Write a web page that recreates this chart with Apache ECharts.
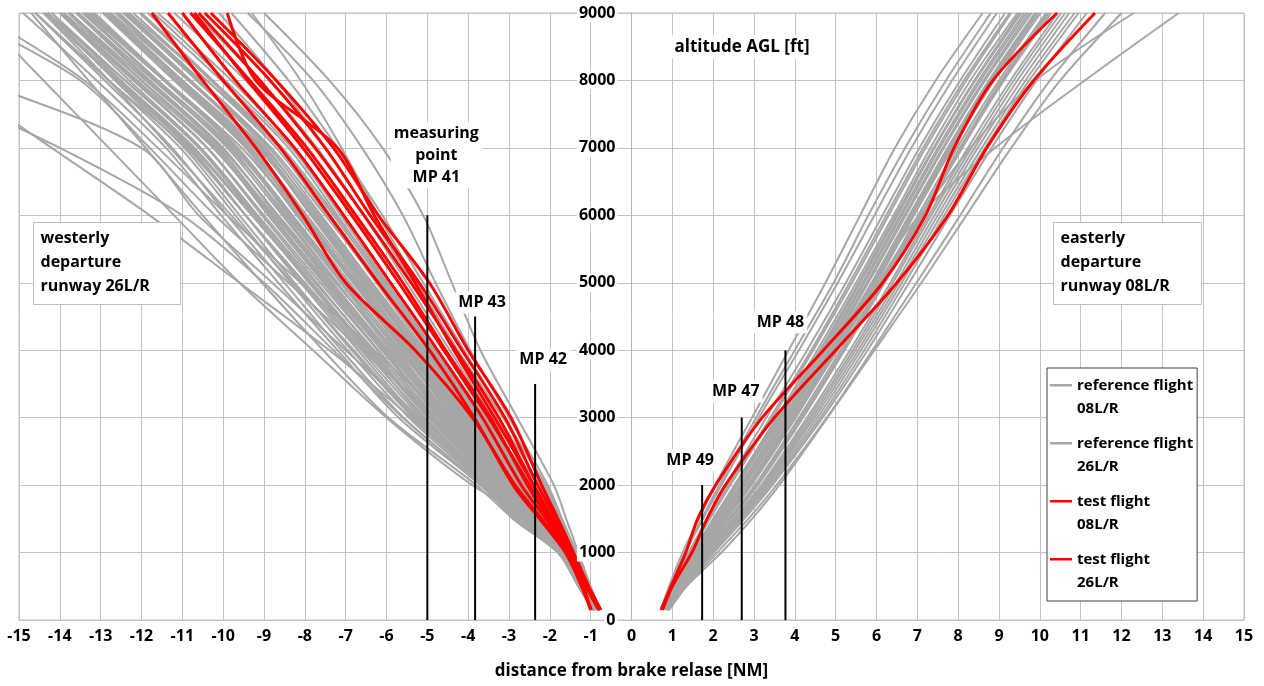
<!DOCTYPE html>
<html>
<head>
<meta charset="utf-8">
<script src="https://cdn.jsdelivr.net/npm/echarts@6/dist/echarts.min.js"></script>
<style>
  html, body { margin: 0; padding: 0; background: #fff; }
  #chart { width: 1264px; height: 686px; }
</style>
</head>
<body>
<div id="chart"></div>
<script>
// altitude levels (ft) at which each track's distance (NM) was read
const altLevels = [150, 500, 1000, 1500, 2000, 3000, 4000, 5000, 6000, 7000, 8000, 9000];

// reference flights, westerly departure 26L/R (distance at each altitude level)
const westReference = [
  [-0.75, -1.00, -1.30, -1.60, -1.90, -2.80, -3.70, -4.40, -5.10, -6.10, -7.40, -9.00],
  [-0.78, -1.02, -1.35, -1.70, -2.05, -3.00, -3.95, -4.80, -5.60, -6.60, -7.80, -9.40],
  [-0.80, -1.05, -1.38, -1.75, -2.15, -3.10, -4.10, -5.10, -6.10, -7.20, -8.40, -9.80],
  [-0.82, -1.06, -1.40, -1.80, -2.25, -3.25, -4.30, -5.35, -6.40, -7.50, -8.70, -10.10],
  [-0.80, -1.08, -1.42, -1.85, -2.30, -3.40, -4.45, -5.50, -6.55, -7.70, -9.10, -10.70],
  [-0.83, -1.10, -1.45, -1.90, -2.40, -3.55, -4.60, -5.70, -6.80, -7.95, -9.45, -11.20],
  [-0.85, -1.10, -1.47, -1.95, -2.45, -3.60, -4.75, -5.90, -7.05, -8.25, -9.80, -11.60],
  [-0.84, -1.12, -1.50, -2.00, -2.55, -3.75, -4.90, -6.05, -7.20, -8.40, -10.05, -11.85],
  [-0.86, -1.13, -1.52, -2.05, -2.60, -3.85, -5.05, -6.25, -7.45, -8.70, -10.40, -12.20],
  [-0.87, -1.15, -1.55, -2.10, -2.70, -3.95, -5.20, -6.45, -7.70, -8.95, -10.65, -12.45],
  [-0.85, -1.14, -1.55, -2.15, -2.75, -4.05, -5.35, -6.60, -7.85, -9.10, -10.85, -12.65],
  [-0.88, -1.16, -1.58, -2.20, -2.85, -4.20, -5.50, -6.75, -8.00, -9.25, -11.00, -12.80],
  [-0.88, -1.18, -1.60, -2.25, -2.90, -4.30, -5.60, -6.90, -8.20, -9.45, -11.20, -12.95],
  [-0.90, -1.18, -1.62, -2.30, -3.00, -4.45, -5.75, -7.05, -8.35, -9.65, -11.40, -13.15],
  [-0.89, -1.20, -1.64, -2.35, -3.05, -4.55, -5.90, -7.20, -8.50, -9.80, -11.60, -13.40],
  [-0.90, -1.20, -1.66, -2.40, -3.15, -4.70, -6.05, -7.40, -8.70, -10.00, -11.80, -13.60],
  [-0.91, -1.22, -1.68, -2.45, -3.20, -4.80, -6.20, -7.55, -8.90, -10.20, -12.00, -13.80],
  [-0.92, -1.22, -1.70, -2.50, -3.30, -4.95, -6.35, -7.70, -9.05, -10.40, -12.20, -14.00],
  [-0.92, -1.24, -1.72, -2.55, -3.40, -5.10, -6.50, -7.90, -9.25, -10.60, -12.40, -14.20],
  [-0.93, -1.25, -1.74, -2.60, -3.50, -5.25, -6.70, -8.10, -9.45, -10.80, -12.60, -14.40],
  [-0.94, -1.26, -1.76, -2.70, -3.60, -5.45, -6.95, -8.35, -9.70, -11.05, -12.80, -14.60],
  [-0.95, -1.28, -1.78, -2.80, -3.70, -5.70, -7.20, -8.65, -10.05, -11.40, -13.10, -14.90],
  [-0.95, -1.30, -1.80, -2.90, -3.80, -5.95, -7.55, -9.05, -10.50, -11.90, -13.30, -14.70],
  [-0.95, -1.30, -1.65, -2.50, -3.90, -6.00, -7.80, -9.60, -11.20, -12.80, -14.40, -16.00],
  [-0.84, -1.10, -1.50, -2.05, -2.65, -3.90, -5.00, -6.10, -7.30, -8.60, -10.40, -12.30],
  [-0.86, -1.12, -1.54, -2.12, -2.72, -4.00, -5.25, -6.50, -7.80, -9.15, -11.00, -12.90],
  [-0.87, -1.15, -1.58, -2.18, -2.80, -4.15, -5.45, -6.80, -8.15, -9.55, -11.40, -13.30],
  [-0.88, -1.16, -1.60, -2.28, -2.95, -4.35, -5.70, -7.10, -8.45, -9.85, -11.70, -13.55],
  [-0.90, -1.18, -1.63, -2.35, -3.10, -4.60, -6.00, -7.35, -8.75, -10.15, -12.00, -13.90],
  [-0.91, -1.20, -1.66, -2.42, -3.22, -4.85, -6.30, -7.75, -9.15, -10.55, -12.40, -14.30],
  [-0.92, -1.22, -1.70, -2.52, -3.35, -5.05, -6.55, -8.00, -9.45, -10.90, -12.80, -14.60],
  [-0.93, -1.24, -1.73, -2.62, -3.48, -5.30, -6.80, -8.30, -9.80, -11.30, -12.80, -14.40],
  [-0.89, -1.18, -1.62, -2.30, -2.98, -4.40, -5.80, -7.25, -8.65, -10.05, -11.90, -13.75],
  [-0.88, -1.15, -1.57, -2.22, -2.88, -4.25, -5.55, -6.95, -8.35, -9.75, -11.60, -13.45],
  [-0.87, -1.13, -1.53, -2.10, -2.70, -4.00, -5.30, -6.70, -8.10, -9.55, -11.45, -13.35],
  [-0.86, -1.12, -1.52, -2.08, -2.68, -3.95, -5.15, -6.40, -7.65, -9.00, -10.85, -12.75],
  [-0.90, -1.20, -1.65, -2.38, -3.12, -4.65, -6.10, -7.50, -8.85, -10.25, -12.10, -13.95],
  [-0.91, -1.21, -1.67, -2.45, -3.25, -4.90, -6.40, -7.85, -9.30, -10.75, -12.55, -14.35],
  [-0.95, -1.30, -1.80, -2.85, -3.70, -5.60, -7.30, -9.00, -11.00, -14.00, -17.50, -21.00],
  [-0.93, -1.28, -1.75, -2.70, -3.50, -5.20, -7.00, -8.80, -10.60, -12.00, -16.00, -20.00],
  [-0.92, -1.25, -1.70, -2.55, -3.30, -4.80, -6.60, -8.40, -10.20, -11.80, -13.50, -16.50],
  [-0.92, -1.24, -1.68, -2.50, -3.20, -4.60, -6.30, -8.10, -9.90, -11.60, -13.40, -16.00],
  [-0.94, -1.30, -1.80, -2.90, -3.60, -5.40, -7.40, -9.60, -11.80, -14.20, -16.60, -19.00],
  [-0.82, -1.05, -1.35, -1.72, -2.10, -3.15, -4.25, -5.25, -6.20, -7.10, -8.10, -9.30],
  [-0.83, -1.09, -1.46, -1.93, -2.48, -3.68, -4.82, -5.98, -7.12, -8.32, -9.95, -11.70],
  [-0.85, -1.11, -1.49, -1.98, -2.52, -3.72, -4.88, -6.15, -7.38, -8.62, -10.30, -12.05],
  [-0.86, -1.14, -1.53, -2.06, -2.64, -3.88, -5.10, -6.35, -7.60, -8.88, -10.60, -12.40],
  [-0.87, -1.15, -1.56, -2.12, -2.74, -4.02, -5.28, -6.55, -7.82, -9.08, -10.80, -12.60],
  [-0.88, -1.17, -1.59, -2.24, -2.86, -4.22, -5.52, -6.82, -8.10, -9.40, -11.15, -12.90],
  [-0.89, -1.19, -1.63, -2.32, -3.02, -4.48, -5.82, -7.12, -8.40, -9.70, -11.45, -13.20],
  [-0.90, -1.21, -1.67, -2.42, -3.18, -4.72, -6.12, -7.48, -8.80, -10.10, -11.85, -13.60],
  [-0.91, -1.23, -1.71, -2.50, -3.28, -4.92, -6.42, -7.82, -9.20, -10.55, -12.30, -14.00],
  [-0.93, -1.25, -1.75, -2.64, -3.55, -5.35, -6.85, -8.25, -9.60, -10.95, -12.65, -14.30],
  [-0.94, -1.27, -1.77, -2.74, -3.65, -5.58, -7.10, -8.50, -9.90, -11.25, -12.90, -14.60],
  [-0.84, -1.10, -1.48, -1.98, -2.50, -3.65, -4.85, -6.00, -7.25, -8.55, -10.25, -12.00],
  [-0.86, -1.13, -1.54, -2.10, -2.68, -3.98, -5.22, -6.48, -7.75, -9.05, -10.80, -12.55],
  [-0.88, -1.16, -1.59, -2.22, -2.84, -4.18, -5.48, -6.78, -8.08, -9.38, -11.10, -12.80],
  [-0.89, -1.19, -1.64, -2.34, -3.06, -4.52, -5.88, -7.22, -8.55, -9.90, -11.65, -13.40],
  [-0.90, -1.22, -1.68, -2.44, -3.20, -4.78, -6.22, -7.62, -9.00, -10.38, -12.15, -13.95],
  [-0.92, -1.23, -1.72, -2.56, -3.42, -5.15, -6.62, -8.05, -9.45, -10.85, -12.60, -14.30],
  [-0.87, -1.14, -1.55, -2.14, -2.76, -4.08, -5.38, -6.65, -7.95, -9.25, -11.00, -12.80],
  [-0.89, -1.18, -1.61, -2.26, -2.92, -4.32, -5.65, -7.00, -8.30, -9.65, -11.45, -13.25],
  [-0.91, -1.20, -1.66, -2.40, -3.14, -4.68, -6.08, -7.45, -8.82, -10.20, -12.00, -13.75],
  [-0.92, -1.24, -1.71, -2.48, -3.30, -4.98, -6.45, -7.88, -9.28, -10.70, -12.50, -14.20],
  [-0.85, -1.12, -1.51, -2.03, -2.58, -3.80, -4.98, -6.20, -7.50, -8.82, -10.55, -12.35],
  [-0.88, -1.15, -1.58, -2.20, -2.82, -4.12, -5.42, -6.72, -8.02, -9.32, -11.05, -12.85],
  [-0.90, -1.19, -1.64, -2.36, -3.08, -4.58, -5.96, -7.32, -8.66, -10.02, -11.80, -13.55]
];

// reference flights, easterly departure 08L/R
const eastReference = [
  [0.72, 0.92, 1.25, 1.65, 2.05, 2.95, 3.85, 4.75, 5.60, 6.45, 7.45, 8.60],
  [0.75, 0.95, 1.32, 1.75, 2.20, 3.12, 4.10, 5.05, 5.95, 6.85, 7.85, 8.95],
  [0.78, 1.00, 1.40, 1.85, 2.32, 3.30, 4.30, 5.25, 6.15, 7.05, 8.05, 9.15],
  [0.80, 1.02, 1.45, 1.92, 2.42, 3.45, 4.45, 5.40, 6.30, 7.20, 8.20, 9.30],
  [0.80, 1.05, 1.50, 2.00, 2.52, 3.55, 4.55, 5.50, 6.42, 7.32, 8.30, 9.45],
  [0.82, 1.08, 1.55, 2.06, 2.60, 3.65, 4.65, 5.60, 6.52, 7.42, 8.42, 9.55],
  [0.83, 1.10, 1.60, 2.14, 2.70, 3.75, 4.75, 5.70, 6.62, 7.55, 8.55, 9.68],
  [0.84, 1.12, 1.64, 2.20, 2.78, 3.85, 4.85, 5.80, 6.72, 7.65, 8.66, 9.80],
  [0.85, 1.14, 1.68, 2.26, 2.86, 3.93, 4.93, 5.90, 6.82, 7.76, 8.78, 9.92],
  [0.86, 1.16, 1.72, 2.32, 2.94, 4.02, 5.02, 6.00, 6.92, 7.86, 8.88, 10.02],
  [0.86, 1.18, 1.76, 2.38, 3.02, 4.10, 5.12, 6.10, 7.02, 7.97, 9.00, 10.15],
  [0.87, 1.20, 1.80, 2.44, 3.10, 4.20, 5.22, 6.20, 7.14, 8.10, 9.12, 10.28],
  [0.88, 1.22, 1.85, 2.50, 3.18, 4.30, 5.35, 6.34, 7.28, 8.24, 9.28, 10.44],
  [0.88, 1.24, 1.90, 2.58, 3.26, 4.42, 5.48, 6.48, 7.42, 8.40, 9.45, 10.62],
  [0.90, 1.27, 1.95, 2.66, 3.35, 4.55, 5.62, 6.62, 7.58, 8.58, 9.65, 10.85],
  [0.90, 1.30, 2.02, 2.76, 3.45, 4.68, 5.78, 6.80, 7.80, 8.82, 9.92, 11.15],
  [0.92, 1.33, 2.10, 2.86, 3.55, 4.78, 5.90, 6.98, 8.05, 9.10, 10.25, 11.60],
  [0.92, 1.35, 2.20, 2.95, 3.62, 4.80, 5.95, 7.10, 8.20, 9.30, 10.50, 12.00],
  [0.84, 1.12, 1.62, 2.18, 2.75, 3.82, 4.88, 5.90, 7.05, 8.90, 11.10, 13.40],
  [0.86, 1.16, 1.70, 2.30, 2.90, 3.98, 5.05, 6.05, 7.10, 8.30, 9.90, 12.30],
  [0.82, 1.06, 1.52, 2.02, 2.55, 3.60, 4.62, 5.58, 6.48, 7.40, 8.40, 9.52],
  [0.85, 1.13, 1.66, 2.24, 2.84, 3.90, 4.92, 5.88, 6.80, 7.74, 8.75, 9.88],
  [0.87, 1.19, 1.78, 2.40, 3.05, 4.15, 5.18, 6.16, 7.10, 8.05, 9.08, 10.22],
  [0.89, 1.25, 1.92, 2.62, 3.30, 4.48, 5.55, 6.55, 7.50, 8.48, 9.55, 10.72],
  [0.79, 1.01, 1.43, 1.90, 2.38, 3.40, 4.40, 5.34, 6.24, 7.14, 8.14, 9.26],
  [0.74, 0.94, 1.30, 1.72, 2.15, 3.05, 4.00, 4.95, 5.80, 6.70, 7.70, 8.80],
  [0.81, 1.07, 1.53, 2.04, 2.58, 3.62, 4.62, 5.56, 6.48, 7.40, 8.40, 9.50],
  [0.84, 1.11, 1.63, 2.18, 2.76, 3.80, 4.80, 5.76, 6.68, 7.62, 8.62, 9.74],
  [0.86, 1.15, 1.70, 2.28, 2.90, 3.97, 4.98, 5.95, 6.88, 7.82, 8.84, 9.96],
  [0.87, 1.19, 1.78, 2.41, 3.06, 4.16, 5.18, 6.15, 7.08, 8.04, 9.06, 10.20],
  [0.88, 1.23, 1.87, 2.54, 3.22, 4.36, 5.42, 6.40, 7.34, 8.32, 9.36, 10.52],
  [0.90, 1.28, 1.98, 2.70, 3.40, 4.62, 5.70, 6.70, 7.66, 8.66, 9.74, 10.95],
  [0.83, 1.09, 1.58, 2.10, 2.66, 3.70, 4.70, 5.66, 6.58, 7.50, 8.50, 9.62],
  [0.85, 1.14, 1.67, 2.25, 2.85, 3.92, 4.94, 5.92, 6.85, 7.80, 8.82, 9.95]
];

// test flights, westerly departure 26L/R
const westTest = [
  [-0.75, -1.05, -1.42, -1.80, -2.20, -2.95, -4.00, -4.95, -6.20, -7.30, -8.70, -10.30],
  [-0.76, -1.06, -1.45, -1.85, -2.30, -3.10, -4.15, -5.20, -6.40, -7.50, -8.85, -10.45],
  [-0.78, -1.10, -1.50, -1.95, -2.40, -3.25, -4.30, -5.40, -6.55, -7.75, -9.10, -10.60],
  [-0.77, -1.08, -1.48, -1.92, -2.40, -3.35, -4.35, -5.30, -6.30, -7.20, -9.20, -9.90],
  [-0.80, -1.12, -1.55, -2.05, -2.55, -3.45, -4.55, -5.60, -6.75, -7.95, -9.35, -10.80],
  [-1.00, -1.18, -1.55, -2.10, -2.70, -3.65, -4.75, -5.90, -7.05, -8.25, -9.70, -11.00],
  [-0.80, -1.12, -1.52, -2.00, -2.50, -3.50, -4.60, -5.70, -6.85, -8.05, -9.40, -10.70],
  [-1.00, -1.22, -1.62, -2.25, -2.90, -3.85, -4.95, -6.20, -7.40, -8.60, -10.00, -11.35],
  [-0.98, -1.22, -1.60, -2.20, -2.85, -3.90, -5.30, -7.00, -8.05, -9.20, -10.50, -11.75]
];

// test flights, easterly departure 08L/R
const eastTest = [
  [0.72, 0.97, 1.33, 1.62, 2.06, 3.20, 4.70, 6.15, 7.20, 7.90, 8.85, 10.42],
  [0.76, 1.00, 1.48, 1.85, 2.30, 3.50, 5.00, 6.50, 7.75, 8.70, 9.85, 11.35]
];

// measuring points: position (NM) and height of the marker line (ft)
const mpNames = ['measuring\npoint\nMP 41', 'MP 43', 'MP 42', 'MP 49', 'MP 47', 'MP 48'];
const mpX = [-5.0, -3.83, -2.36, 1.73, 2.70, 3.77];
const mpTop = [6000, 4500, 3500, 2000, 3000, 4000];

const FONT = '"Open Sans", sans-serif';
const GRID = '#c3c3c3';
const GRAY = '#a6a6a6';
const RED = '#ff0000';

// plot box; the altitude labels sit on the x = 0 line, i.e. halfway across
const PLOT = { left: 19, right: 20, top: 13, bottom: 66 };
const zeroLeft = PLOT.left + (1264 - PLOT.left - PLOT.right) / 2;

const toPoints = (xs) => xs.map((x, i) => [x, altLevels[i]]);

const trackSeries = (tracks, name, color, width) => tracks.map((xs) => ({
  type: 'line',
  name: name,
  data: toPoints(xs),
  smooth: 0.3,
  showSymbol: false,
  symbol: 'none',
  silent: true,
  color: color,
  lineStyle: { color: color, width: width },
  emphasis: { disabled: true },
  z: color === RED ? 3 : 2
}));

// label placement next to each marker line (dx, dy in px)
const mpLabelOffset = [[9, -27], [7, -3], [8, -13], [-12, -14], [-6, -15], [-5, -17]];

const mpSeries = mpX.map((x, i) => ({
  type: 'line',
  name: 'mp',
  silent: true,
  symbol: 'circle',
  symbolSize: 0.1,
  showSymbol: true,
  color: '#000',
  lineStyle: { color: '#000', width: 2 },
  emphasis: { disabled: true },
  z: 4,
  data: [
    [x, 0],
    {
      value: [x, mpTop[i]],
      label: {
        show: true,
        position: 'top',
        distance: 0,
        offset: mpLabelOffset[i],
        formatter: mpNames[i],
        fontFamily: FONT,
        fontWeight: 'bold',
        fontSize: 16,
        lineHeight: 22,
        color: '#000',
        align: 'center',
        backgroundColor: '#fff',
        padding: [0, 3]
      }
    }
  ]
}));

const legendIcon = 'path://M0,0h0.01v0.01h-0.01z M0,10h22v2.6h-22z M21.99,47h0.01v0.01h-0.01z';

const chart = echarts.init(document.getElementById('chart'));
chart.setOption({
  animation: false,
  backgroundColor: '#fff',
  grid: [
    {
      left: PLOT.left, right: PLOT.right, top: PLOT.top, bottom: PLOT.bottom,
      outerBoundsMode: 'none', containLabel: false,
      show: true, borderColor: GRID, borderWidth: 1
    },
    {
      left: zeroLeft, right: PLOT.right, top: PLOT.top, bottom: PLOT.bottom,
      outerBoundsMode: 'none', containLabel: false
    }
  ],
  xAxis: [
    {
      type: 'value',
      min: -15,
      max: 15,
      interval: 1,
      name: 'distance from brake relase [NM]',
      nameLocation: 'middle',
      nameGap: 43,
      nameTextStyle: { fontFamily: FONT, fontWeight: 'bold', fontSize: 17, color: '#000' },
      axisLine: { onZero: false, lineStyle: { color: GRID } },
      axisTick: { show: false },
      axisLabel: { fontFamily: FONT, fontWeight: 'bold', fontSize: 16, color: '#000', margin: 8 },
      splitLine: { show: true, lineStyle: { color: GRID, width: 1 } }
    },
    { type: 'value', gridIndex: 1, min: 0, max: 15, show: false }
  ],
  yAxis: [
    {
      // horizontal gridlines behind the tracks
      type: 'value',
      min: 0,
      max: 9000,
      interval: 1000,
      axisLine: { show: false, onZero: false },
      axisTick: { show: false },
      axisLabel: { show: false },
      splitLine: { show: true, lineStyle: { color: GRID, width: 1 } }
    },
    {
      // altitude labels on the x = 0 line, drawn above the tracks
      type: 'value',
      gridIndex: 1,
      min: 0,
      max: 9000,
      interval: 1000,
      position: 'left',
      z: 10,
      axisLine: { show: true, onZero: false, lineStyle: { color: '#aab6c8' } },
      axisTick: { show: false },
      axisLabel: {
        fontFamily: FONT, fontWeight: 'bold', fontSize: 16, color: '#000',
        margin: 14, backgroundColor: '#fff', padding: [1, 2],
        formatter: (v) => String(v)
      },
      splitLine: { show: false }
    }
  ],
  legend: {
    data: ['reference flight 08L/R', 'reference flight 26L/R', 'test flight 08L/R', 'test flight 26L/R'],
    orient: 'vertical',
    left: 1047,
    top: 368,
    padding: [6, 4, 6, 3],
    itemGap: 11,
    itemWidth: 22,
    itemHeight: 47,
    icon: legendIcon,
    backgroundColor: '#fff',
    borderColor: '#404040',
    borderWidth: 1,
    selectedMode: false,
    formatter: (name) => name.replace(' 0', '\n0').replace(' 2', '\n2'),
    textStyle: { fontFamily: FONT, fontWeight: 'bold', fontSize: 15, color: '#000', lineHeight: 23 }
  },
  graphic: [
    {
      type: 'group', left: 33, top: 222, z: 100,
      children: [
        { type: 'rect', z: 100, shape: { x: 0, y: 0, width: 147, height: 82 }, style: { fill: '#fff', stroke: '#bfbfbf', lineWidth: 1 } },
        { type: 'text', z: 101, x: 7, y: 4, style: { text: 'westerly\ndeparture\nrunway 26L/R', font: 'bold 16px ' + FONT, lineHeight: 24, fill: '#000' } }
      ]
    },
    {
      type: 'group', left: 1053, top: 222, z: 100,
      children: [
        { type: 'rect', z: 100, shape: { x: 0, y: 0, width: 148, height: 82 }, style: { fill: '#fff', stroke: '#bfbfbf', lineWidth: 1 } },
        { type: 'text', z: 101, x: 7, y: 4, style: { text: 'easterly\ndeparture\nrunway 08L/R', font: 'bold 16px ' + FONT, lineHeight: 24, fill: '#000' } }
      ]
    },
    {
      type: 'text', x: 742, y: 47, z: 100,
      style: {
        text: 'altitude AGL [ft]', font: 'bold 17px ' + FONT, fill: '#000',
        align: 'center', verticalAlign: 'middle', backgroundColor: '#fff', padding: [3, 4]
      }
    }
  ],
  series: [].concat(
    trackSeries(eastReference, 'reference flight 08L/R', GRAY, 2),
    trackSeries(westReference, 'reference flight 26L/R', GRAY, 2),
    trackSeries(eastTest, 'test flight 08L/R', RED, 3),
    trackSeries(westTest, 'test flight 26L/R', RED, 3),
    mpSeries
  )
});
</script>
</body>
</html>
